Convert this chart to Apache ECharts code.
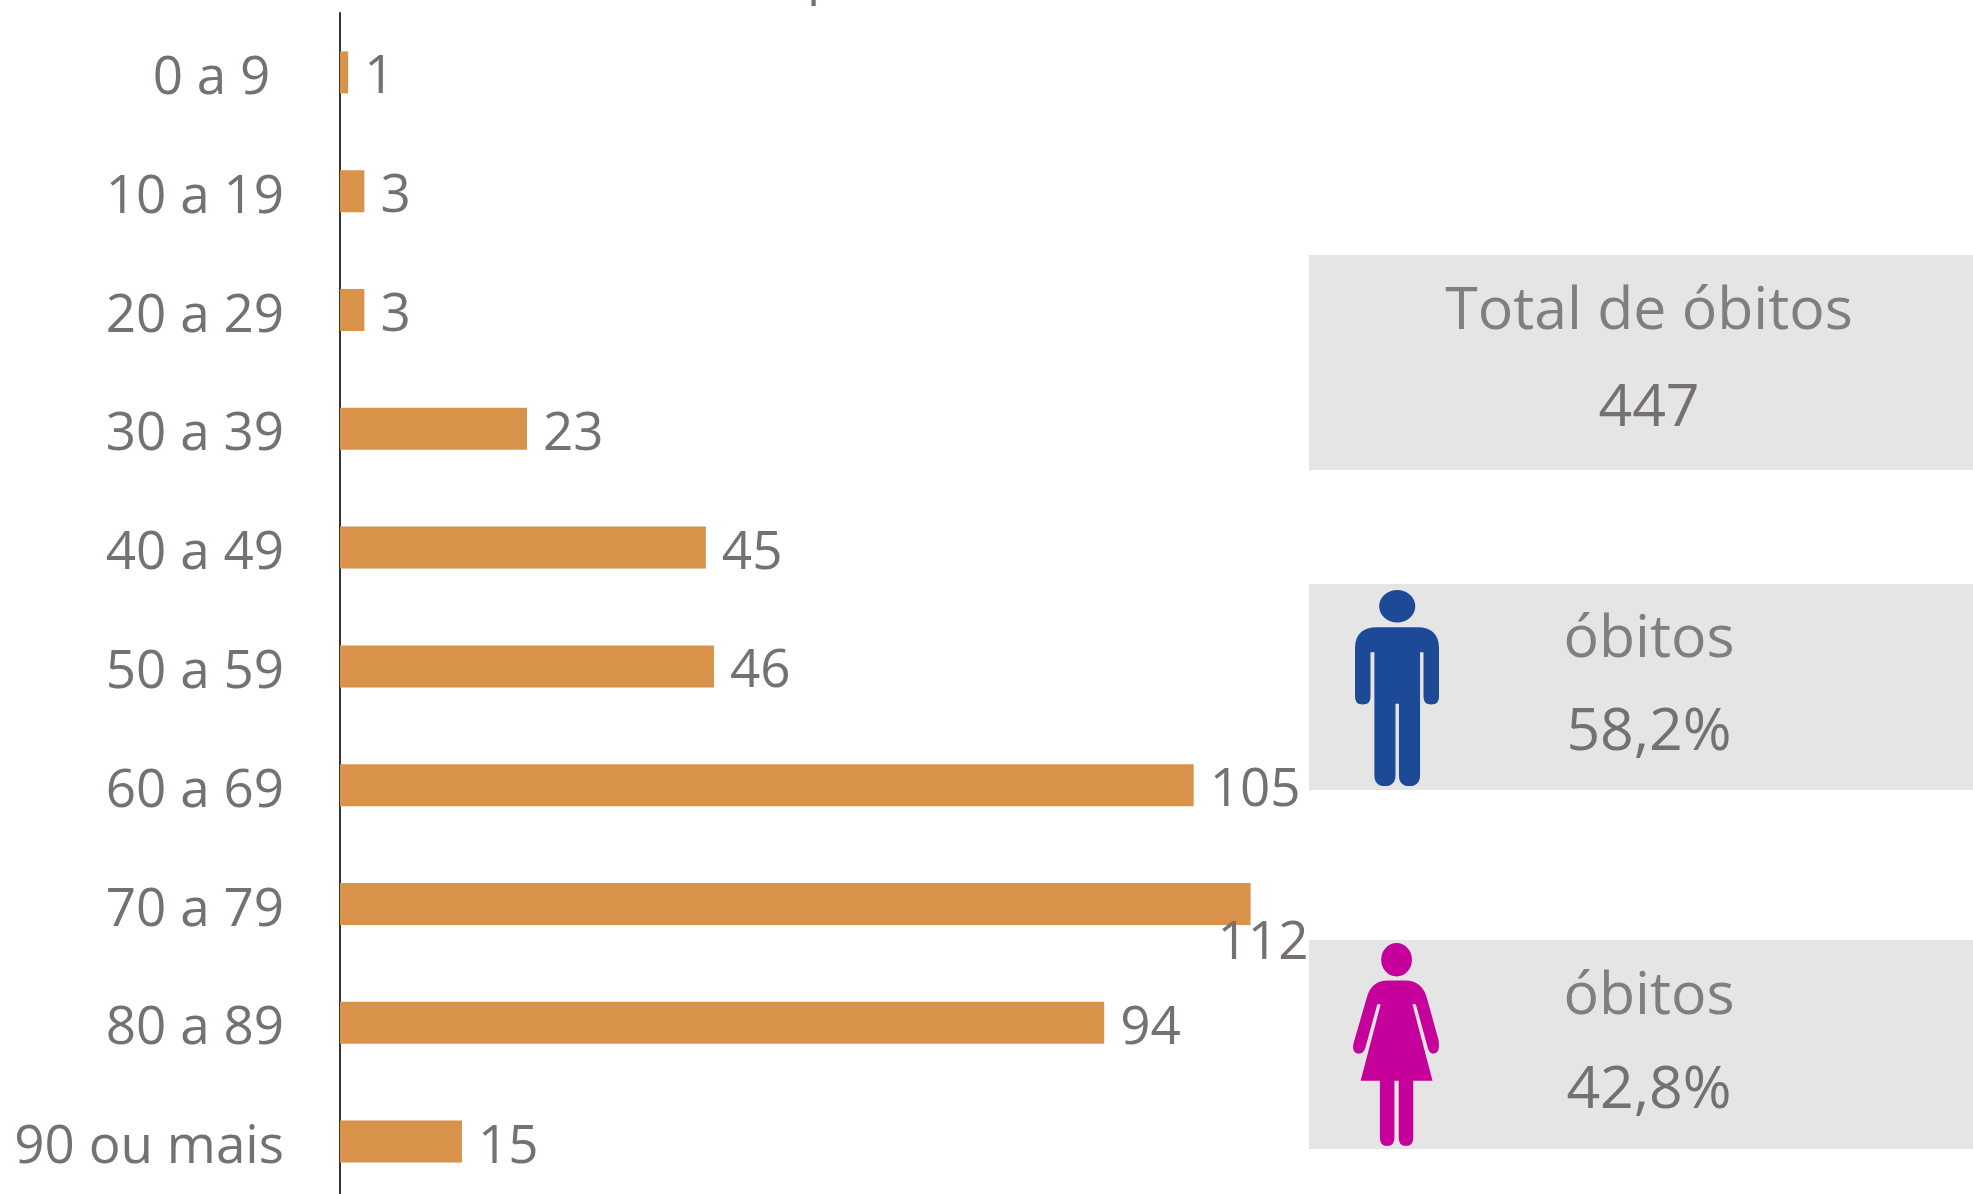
<!DOCTYPE html>
<html><head><meta charset="utf-8">
<style>html,body{margin:0;padding:0;background:#fff}#c{width:1973px;height:1194px}</style>
<script src="https://cdn.jsdelivr.net/npm/echarts@6/dist/echarts.min.js"></script>
</head><body><div id="c"></div>
<script>
const categories = ['0 a 9','10 a 19','20 a 29','30 a 39','40 a 49','50 a 59','60 a 69','70 a 79','80 a 89','90 ou mais'];
const obitos = [1,3,3,23,45,46,105,112,94,15];
const totalTitle = 'Total de óbitos', totalValue = '447';
const panelTitle = 'óbitos', homens = '58,2%', mulheres = '42,8%';

const TEXT='#767171', FONT='"Open Sans"';
const manPath='M128 195Q128 142 180 142L272 142Q323 142 323 195L323 318Q323 337 305 337Q287 337 287 318L287 205L279 205L279 515Q279 543 254 543Q230 543 230 515L230 335L222 335L222 515Q222 543 197 543Q173 543 173 515L173 205L164 205L164 318Q164 337 146 337Q128 337 128 318ZM184 89A42 41 0 1 1 268 89A42 41 0 1 1 184 89Z';
const womanPath='M155 1075Q165 1030 205 1030L245 1030Q285 1030 296 1075L323 1180Q328 1214 310 1214Q302 1214 298 1200L270 1090L262 1090L309 1282L264 1282L264 1425Q264 1446 247 1446Q230 1446 230 1425L230 1282L220 1282L220 1425Q220 1446 203 1446Q186 1446 186 1425L186 1282L141 1282L188 1090L180 1090L152 1200Q148 1214 137 1214Q120 1214 124 1190ZM189 978A36 42 0 1 1 261 978A36 42 0 1 1 189 978Z';

function rect(y,h){return{type:'rect',shape:{x:1309,y,width:664,height:h},style:{fill:'#E5E5E5'},z:0};}
function txt(t,y,fill){return{type:'text',x:1649,y,z:2,style:{text:t,fill,font:'400 59px '+FONT,textAlign:'center',textVerticalAlign:'middle'}};}

const chart=echarts.init(document.getElementById('c'),null,{renderer:'canvas'});
chart.setOption({
  animation:false,
  backgroundColor:'#fff',
  grid:{left:340,top:13,width:1626,height:1188,containLabel:false,outerBoundsMode:'none'},
  xAxis:{type:'value',min:0,max:200,show:false},
  yAxis:{type:'category',inverse:true,data:categories,
    axisLine:{show:true,lineStyle:{color:'#333',width:2}},axisTick:{show:false},
    axisLabel:{margin:56,color:TEXT,fontFamily:FONT,fontSize:53,verticalAlign:'top',lineHeight:13,
      formatter:v=>v==='0 a 9'?v+'\u00a0':v}},
  series:[{type:'bar',data:obitos.map(v=>v===112?{value:v,label:{offset:[-49,40]}}:v),
    barWidth:42,itemStyle:{color:'#D8924A'},
    label:{show:true,position:'right',distance:16,color:TEXT,fontFamily:FONT,fontSize:53,offset:[0,6]}},
    {type:'custom',coordinateSystem:'none',silent:true,z:5,data:[0],
     renderItem:()=>({type:'group',children:[
       {type:'path',shape:{pathData:manPath,layout:'cover',x:1355,y:590,width:84,height:196},style:{fill:'#1C4A97'}},
       {type:'path',shape:{pathData:womanPath,layout:'cover',x:1353,y:943,width:86,height:203},style:{fill:'#C6009B'}}
     ]})}],
  graphic:[
    rect(255,215),rect(584,206),rect(940,209),
    txt(totalTitle,312,'#7F7F7F'),txt(totalValue,409,TEXT),
    txt(panelTitle,640,'#7F7F7F'),txt(homens,733,TEXT),
    txt(panelTitle,997,'#7F7F7F'),txt(mulheres,1091,TEXT),
    {type:'text',x:807,y:-21,z:2,style:{text:'p',fill:TEXT,font:'400 52px '+FONT,textVerticalAlign:'middle'}}
  ]
});
</script></body></html>
